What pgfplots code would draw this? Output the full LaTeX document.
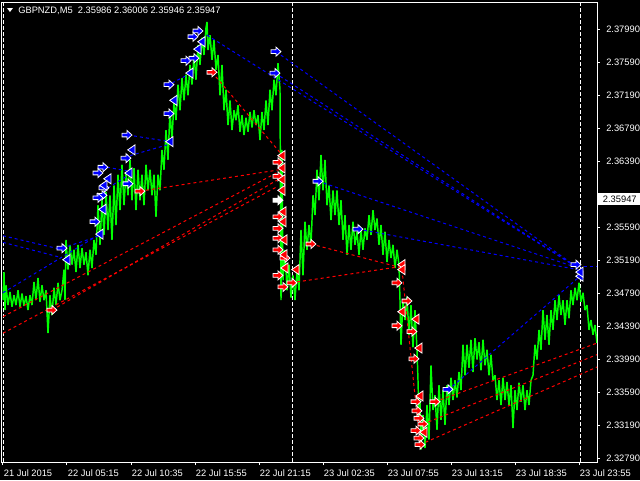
\documentclass[border=0pt]{standalone}
\usepackage{pgfplots}
\pgfplotsset{compat=1.18}
\usepackage{fontspec}
\setmainfont{Liberation Sans}
\definecolor{mtgreen}{RGB}{0,255,0}
\definecolor{mtblue}{RGB}{0,0,255}
\definecolor{mtred}{RGB}{255,0,0}
\pgfdeclareplotmark{rarrow}{%
  \pgfpathmoveto{\pgfqpoint{-3.7pt}{-1.4pt}}%
  \pgfpathlineto{\pgfqpoint{0pt}{-1.4pt}}%
  \pgfpathlineto{\pgfqpoint{0pt}{-3.4pt}}%
  \pgfpathlineto{\pgfqpoint{3.7pt}{0pt}}%
  \pgfpathlineto{\pgfqpoint{0pt}{3.4pt}}%
  \pgfpathlineto{\pgfqpoint{0pt}{1.4pt}}%
  \pgfpathlineto{\pgfqpoint{-3.7pt}{1.4pt}}%
  \pgfpathclose
  \pgfusepathqfillstroke}
\pgfdeclareplotmark{ltri}{%
  \pgfpathmoveto{\pgfqpoint{2.3pt}{-3.8pt}}%
  \pgfpathlineto{\pgfqpoint{2.3pt}{3.8pt}}%
  \pgfpathlineto{\pgfqpoint{-3.2pt}{0pt}}%
  \pgfpathclose
  \pgfusepathqfillstroke}
\pgfplotsset{
  bl/.style={mtblue, line width=0.75pt, dash pattern=on 2.25pt off 2.25pt},
  rl/.style={mtred, line width=0.75pt, dash pattern=on 2.25pt off 2.25pt},
}
\begin{document}
\begin{tikzpicture}
\useasboundingbox (-1.5pt,-13.5pt) rectangle (478.5pt,346.5pt);
\fill[black] (-1.5pt,-13.5pt) rectangle (478.5pt,346.5pt);
\begin{axis}[
  at={(0,0)}, anchor=south west,
  scale only axis, width=446.25pt, height=345pt,
  xmin=2, xmax=597, ymin=2.32750, ymax=2.38321,
  axis line style={white, line width=0.75pt},
  tick align=outside, major tick length=2.25pt,
  tick style={white, line width=0.75pt},
  xtick pos=bottom, ytick pos=right,
  xtick={3,67,131,195,259,323,387,451,515,579},
  xticklabels={21 Jul 2015,22 Jul 05:15,22 Jul 10:35,22 Jul 15:55,22 Jul 21:15,23 Jul 02:35,23 Jul 07:55,23 Jul 13:15,23 Jul 18:35,23 Jul 23:55},
  ytick={2.32790,2.33190,2.33590,2.33990,2.34390,2.34790,2.35190,2.35590,2.35990,2.36390,2.36790,2.37190,2.37590,2.37990},
  yticklabels={2.32790,2.33190,2.33590,2.33990,2.34390,2.34790,2.35190,2.35590,{},2.36390,2.36790,2.37190,2.37590,2.37990},
  xticklabel style={anchor=north west, text=white, font=\fontsize{7}{8}\selectfont, inner sep=0pt, yshift=-3.5pt, xshift=0.5pt},
  yticklabel style={anchor=west, text=white, font=\fontsize{7}{8}\selectfont, inner sep=0pt, xshift=4.5pt},
]
% day separators
\addplot[white, line width=0.75pt, dash pattern=on 3pt off 1.5pt] coordinates {(4,2.3275) (4,2.3832)};
\addplot[white, line width=0.75pt, dash pattern=on 3pt off 1.5pt] coordinates {(292,2.3275) (292,2.3832)};
\addplot[white, line width=0.75pt, dash pattern=on 3pt off 1.5pt] coordinates {(580,2.3275) (580,2.3832)};
% price
\addplot[mtgreen, line width=1.1pt, line join=bevel] coordinates {
(3,2.3471)(4,2.3505)(5,2.3459)(6,2.3489)(8,2.3465)(10,2.3481)(12,2.3463)(14,2.3477)(16,2.3465)(18,2.3483)
(20,2.3463)(22,2.3479)(24,2.3464)(26,2.3476)(28,2.3459)(30,2.3477)(32,2.3465)(34,2.3493)(36,2.3471)(38,2.3498)
(40,2.3469)(42,2.3489)(44,2.3471)(46,2.3483)(48,2.3431)(50,2.3477)(52,2.3453)(54,2.3486)(56,2.3465)(58,2.3492)
(60,2.3471)(62,2.3483)(64,2.3508)(65,2.3471)(66,2.3544)(68,2.3508)(70,2.3538)(72,2.3514)(74,2.3532)(76,2.3505)
(78,2.3538)(80,2.3510)(82,2.3534)(84,2.3514)(86,2.3529)(88,2.3501)(90,2.3532)(92,2.3510)(94,2.3544)(96,2.3526)
(98,2.3586)(100,2.3538)(102,2.3592)(104,2.3550)(106,2.3602)(108,2.3556)(110,2.3598)(112,2.3544)(114,2.3610)(116,2.3562)
(118,2.3623)(120,2.3580)(122,2.3635)(124,2.3586)(126,2.3626)(128,2.3598)(130,2.3641)(132,2.3592)(134,2.3631)(136,2.3580)
(138,2.3629)(140,2.3592)(142,2.3623)(144,2.3586)(146,2.3635)(148,2.3604)(150,2.3629)(152,2.3598)(154,2.3623)(156,2.3572)
(158,2.3623)(160,2.3604)(162,2.3653)(164,2.3629)(166,2.3677)(168,2.3641)(170,2.3701)(172,2.3665)(174,2.3713)(176,2.3689)
(178,2.3732)(180,2.3701)(182,2.3740)(184,2.3713)(186,2.3744)(188,2.3719)(190,2.3756)(192,2.3732)(194,2.3768)(196,2.3738)
(198,2.3780)(200,2.3756)(202,2.3789)(204,2.3768)(206,2.3801)(207,2.3808)(208,2.3774)(210,2.3792)(212,2.3762)(214,2.3786)
(216,2.3750)(218,2.3768)(220,2.3719)(222,2.3756)(224,2.3701)(226,2.3726)(228,2.3683)(230,2.3713)(232,2.3677)(234,2.3701)
(236,2.3689)(238,2.3707)(240,2.3675)(242,2.3695)(244,2.3671)(246,2.3692)(248,2.3675)(250,2.3699)(252,2.3680)(254,2.3701)
(256,2.3683)(258,2.3695)(260,2.3665)(262,2.3699)(264,2.3677)(266,2.3713)(268,2.3683)(270,2.3726)(272,2.3701)(274,2.3738)
(276,2.3719)(278,2.3758)(280,2.3726)(281,2.3471)(282,2.3653)(283,2.3495)(285,2.3532)(287,2.3483)(289,2.3514)(291,2.3474)
(293,2.3501)(295,2.3471)(297,2.3508)(299,2.3483)(301,2.3556)(303,2.3501)(305,2.3566)(307,2.3532)(309,2.3562)(311,2.3538)
(313,2.3598)(315,2.3574)(317,2.3629)(319,2.3592)(321,2.3647)(323,2.3604)(325,2.3641)(327,2.3586)(329,2.3610)(331,2.3568)
(333,2.3604)(335,2.3574)(337,2.3604)(339,2.3562)(341,2.3592)(343,2.3544)(345,2.3574)(347,2.3526)(349,2.3562)(351,2.3532)
(353,2.3566)(355,2.3538)(357,2.3554)(359,2.3526)(361,2.3556)(363,2.3532)(365,2.3558)(367,2.3544)(369,2.3574)(371,2.3550)
(373,2.3580)(375,2.3556)(377,2.3570)(379,2.3538)(381,2.3562)(383,2.3526)(385,2.3554)(387,2.3517)(389,2.3544)(391,2.3522)
(393,2.3538)(395,2.3510)(397,2.3532)(399,2.3514)(400,2.3471)(401,2.3417)(403,2.3471)(405,2.3447)(407,2.3475)(409,2.3429)
(411,2.3465)(413,2.3414)(415,2.3459)(417,2.3411)(418,2.3374)(419,2.3326)(420,2.3350)(421,2.3290)(423,2.3332)(425,2.3292)
(427,2.3344)(429,2.3302)(431,2.3392)(433,2.3338)(435,2.3356)(437,2.3314)(439,2.3368)(441,2.3326)(443,2.3362)(445,2.3320)
(447,2.3368)(449,2.3344)(451,2.3377)(453,2.3350)(455,2.3374)(457,2.3353)(459,2.3384)(461,2.3362)(463,2.3417)(465,2.3380)
(467,2.3417)(469,2.3389)(471,2.3423)(473,2.3384)(475,2.3425)(477,2.3399)(479,2.3420)(481,2.3386)(483,2.3423)(485,2.3392)
(487,2.3411)(489,2.3380)(491,2.3405)(493,2.3374)(495,2.3380)(497,2.3350)(499,2.3374)(501,2.3344)(503,2.3377)(505,2.3350)
(507,2.3372)(509,2.3344)(511,2.3368)(513,2.3316)(515,2.3362)(517,2.3338)(519,2.3371)(521,2.3348)(523,2.3368)(525,2.3338)
(527,2.3362)(529,2.3344)(531,2.3374)(533,2.3380)(535,2.3417)(537,2.3399)(539,2.3435)(541,2.3411)(543,2.3459)(545,2.3423)
(547,2.3453)(549,2.3417)(551,2.3459)(553,2.3435)(555,2.3471)(557,2.3447)(559,2.3477)(561,2.3453)(563,2.3471)(565,2.3441)
(567,2.3471)(569,2.3449)(571,2.3483)(573,2.3465)(575,2.3486)(577,2.3471)(579,2.3492)(581,2.3469)(583,2.3480)(585,2.3459)
(587,2.3465)(589,2.3435)(591,2.3447)(593,2.3429)(595,2.3441)(597,2.3419)
};
% blue dashed lines
\addplot[bl] coordinates {(3,2.3549) (63,2.3532)};
\addplot[bl] coordinates {(3,2.3541) (60,2.3523)};
\addplot[bl] coordinates {(3,2.3480) (100,2.3551)};
\addplot[bl] coordinates {(62,2.3534) (100,2.3549)};
\addplot[bl] coordinates {(107,2.3632) (130,2.3627)};
\addplot[bl] coordinates {(108,2.3607) (128,2.3622)};
\addplot[bl] coordinates {(128,2.3671) (170,2.3663)};
\addplot[bl] coordinates {(130,2.3646) (167,2.3659)};
\addplot[bl] coordinates {(172,2.3734) (188,2.3744)};
\addplot[bl] coordinates {(207,2.3792) (578,2.3510)};
\addplot[bl] coordinates {(276,2.3772) (578,2.3510)};
\addplot[bl] coordinates {(275,2.3746) (578,2.3510)};
\addplot[bl] coordinates {(318,2.3615) (578,2.3510)};
\addplot[bl] coordinates {(358,2.3557) (578,2.3508)};
\addplot[bl] coordinates {(448,2.3362) (580,2.3500)};
\addplot[bl] coordinates {(578,2.3512) (597,2.3512)};
% red dashed lines
\addplot[rl] coordinates {(212,2.3747) (282,2.3647)};
\addplot[rl] coordinates {(140,2.3603) (280,2.3629)};
\addplot[rl] coordinates {(3,2.3451) (278,2.3626)};
\addplot[rl] coordinates {(52,2.3459) (278,2.3617)};
\addplot[rl] coordinates {(3,2.3431) (278,2.3609)};
\addplot[rl] coordinates {(311,2.3539) (402,2.3510)};
\addplot[rl] coordinates {(291,2.3492) (402,2.3512)};
\addplot[rl] coordinates {(402,2.3508) (420,2.3296)};
\addplot[rl] coordinates {(435,2.3348) (597,2.3419)};
\addplot[rl] coordinates {(423,2.3321) (597,2.3405)};
\addplot[rl] coordinates {(420,2.3296) (597,2.3390)};
% blue arrows
\addplot[only marks, mark=rarrow, mark options={fill=mtblue, draw=white, line width=0.6pt}] coordinates {
(198,2.3797)(193,2.3790)(186,2.3761)(194,2.3764)(169,2.3732)(169,2.3697)(276,2.3772)(275,2.3746)
(127,2.3671)(126,2.3643)(103,2.3632)(98,2.3625)(128,2.3612)(104,2.3607)(102,2.3598)(98,2.3595)
(95,2.3566)(62,2.3534)(318,2.3615)(358,2.3557)(448,2.3363)(576,2.3514)};
\addplot[only marks, mark=ltri, mark options={fill=mtblue, draw=white, line width=0.6pt}] coordinates {
(202,2.3784)(198,2.3775)(190,2.3746)(174,2.3713)(170,2.3663)(132,2.3653)(129,2.3625)(108,2.3618)
(104,2.3610)(103,2.3581)(100,2.3551)(67,2.3520)(580,2.3500)(580,2.3505)};
% red arrows
\addplot[only marks, mark=rarrow, mark options={fill=mtred, draw=white, line width=0.6pt}] coordinates {
(212,2.3747)(140,2.3603)(52,2.3459)(278,2.3638)(278,2.3621)(278,2.3572)(278,2.3558)(278,2.3546)
(278,2.3532)(285,2.3522)(278,2.3501)(283,2.3487)(292,2.3492)(311,2.3539)(397,2.3492)(407,2.3470)
(397,2.3440)(412,2.3433)(414,2.3400)(416,2.3348)(435,2.3348)(417,2.3337)(419,2.3328)(423,2.3321)
(416,2.3313)(419,2.3304)(420,2.3296)};
\addplot[only marks, mark=ltri, mark options={fill=mtred, draw=white, line width=0.6pt}] coordinates {
(282,2.3646)(282,2.3631)(282,2.3617)(282,2.3604)(283,2.3578)(283,2.3566)(284,2.3544)(284,2.3526)
(285,2.3510)(296,2.3508)(402,2.3514)(402,2.3508)(402,2.3457)(416,2.3448)(419,2.3413)(420,2.3355)(424,2.3311)};
\addplot[only marks, mark=rarrow, mark options={fill=white, draw=white, line width=0.6pt}] coordinates {(278,2.3592)};
\end{axis}
% title
\fill[white] (3.75pt,340.5pt) -- (8.25pt,340.5pt) -- (6pt,337.5pt) -- cycle;
\node[anchor=west, text=white, inner sep=0pt, font=\fontsize{7}{8}\selectfont] at (12pt,338.25pt) {GBPNZD,M5\ \ 2.35986 2.36006 2.35946 2.35947};
% current price box
\fill[white] (447pt,192.75pt) rectangle (478.5pt,201.75pt);
\node[anchor=west, text=black, inner sep=0pt, font=\fontsize{7}{8}\selectfont] at (450.5pt,197.4pt) {2.35947};
\end{tikzpicture}
\end{document}
